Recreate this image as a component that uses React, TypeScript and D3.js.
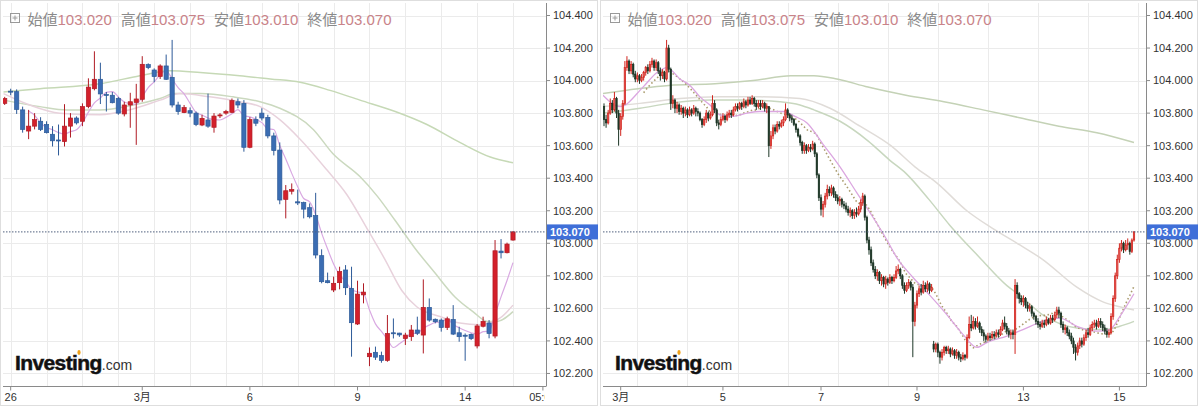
import React from "react";
import * as d3 from "d3";

// ---------- shared ----------
const priceTicks = [102.2, 102.4, 102.6, 102.8, 103.0, 103.2, 103.4, 103.6, 103.8, 104.0, 104.2, 104.4];
const lastPrice = 103.07;
const legendLabels = ["始値", "高値", "安値", "終値"];
const legendValues = ["103.020", "103.075", "103.010", "103.070"];

// ---------- left panel (4h candles) ----------
const leftOpen = [103.86, 103.935, 103.932, 103.82, 103.69, 103.72, 103.75, 103.73, 103.67, 103.635,
  103.625, 103.72, 103.77, 103.75, 103.84, 103.95, 104.008, 103.915, 103.91, 103.89,
  103.795, 103.85, 103.866, 103.885, 104.098, 104.065, 104.025, 104.09, 104.02, 103.85,
  103.803, 103.815, 103.80, 103.727, 103.758, 103.713, 103.783, 103.80, 103.805, 103.87,
  103.86, 103.59, 103.76, 103.80, 103.774, 103.66, 103.573, 103.27, 103.32, 103.255,
  103.25, 103.219, 103.17, 102.924, 102.77, 102.713, 102.758, 102.836, 102.723, 102.504,
  102.683, 102.303, 102.33, 102.31, 102.28, 102.45, 102.448, 102.415, 102.426, 102.467,
  102.436, 102.606, 102.533, 102.528, 102.483, 102.532, 102.45, 102.435, 102.44, 102.369,
  102.49, 102.51, 102.43, 102.952, 102.942, 103.02];
const leftHigh = [103.90, 103.95, 103.946, 103.84, 103.82, 103.80, 103.775, 103.75, 103.72, 103.73,
  103.855, 103.80, 103.78, 103.86, 104.014, 104.18, 104.11, 103.93, 103.93, 103.90,
  103.87, 103.925, 103.98, 104.15, 104.106, 104.075, 104.10, 104.16, 104.25, 103.87,
  103.85, 103.835, 103.81, 103.79, 103.92, 103.80, 103.80, 103.82, 103.89, 103.89,
  103.88, 103.775, 103.78, 103.83, 103.79, 103.68, 103.62, 103.358, 103.368, 103.33,
  103.256, 103.245, 103.31, 102.963, 102.82, 102.795, 102.856, 102.866, 102.856, 102.77,
  102.754, 102.36, 102.365, 102.334, 102.559, 102.538, 102.45, 102.45, 102.498, 102.549,
  102.778, 102.661, 102.538, 102.538, 102.549, 102.62, 102.487, 102.446, 102.446, 102.504,
  102.549, 102.528, 103.02, 103.026, 103.004, 103.075];
const leftLow = [103.85, 103.91, 103.795, 103.68, 103.64, 103.70, 103.69, 103.675, 103.595, 103.54,
  103.595, 103.65, 103.73, 103.72, 103.83, 103.94, 103.856, 103.81, 103.86, 103.79,
  103.78, 103.71, 103.605, 103.87, 104.07, 103.99, 104.01, 104.004, 103.835, 103.79,
  103.80, 103.775, 103.72, 103.72, 103.71, 103.68, 103.77, 103.79, 103.80, 103.83,
  103.563, 103.584, 103.72, 103.755, 103.645, 103.54, 103.24, 103.153, 103.30, 103.235,
  103.153, 103.153, 102.907, 102.754, 102.754, 102.70, 102.717, 102.682, 102.303, 102.498,
  102.631, 102.245, 102.283, 102.266, 102.272, 102.415, 102.425, 102.375, 102.40, 102.436,
  102.323, 102.518, 102.508, 102.457, 102.467, 102.436, 102.395, 102.278, 102.405, 102.354,
  102.483, 102.416, 102.416, 102.907, 102.938, 103.016];
const leftClose = [103.89, 103.93, 103.823, 103.70, 103.72, 103.76, 103.70, 103.68, 103.63, 103.63,
  103.72, 103.77, 103.74, 103.84, 103.96, 104.008, 103.918, 103.91, 103.864, 103.80,
  103.85, 103.87, 103.887, 104.10, 104.08, 104.025, 104.09, 104.008, 103.85, 103.81,
  103.834, 103.80, 103.73, 103.768, 103.72, 103.782, 103.789, 103.81, 103.877, 103.85,
  103.59, 103.76, 103.738, 103.77, 103.66, 103.57, 103.266, 103.323, 103.33, 103.248,
  103.21, 103.163, 102.928, 102.764, 102.758, 102.754, 102.826, 102.727, 102.512, 102.688,
  102.70, 102.324, 102.30, 102.28, 102.446, 102.448, 102.437, 102.436, 102.467, 102.447,
  102.606, 102.528, 102.518, 102.483, 102.536, 102.442, 102.426, 102.432, 102.414, 102.492,
  102.52, 102.446, 102.954, 102.942, 102.995, 103.07];
const leftTickIdx = [1, 23, 41, 59, 77, 90];
const leftTickLabels = ["26", "3月", "6", "9", "14", "05:00"];
const leftGridIdx = [1, 7, 13, 19, 25, 31, 37, 43, 49, 55, 61, 67, 73, 79, 85];
// moving averages: [candle index, price]
const leftMaLong: [number, number][] = [[-0.2, 103.93], [5.9, 103.95], [15.9, 103.98], [22.6, 104.03], [27.6, 104.06],
  [32.7, 104.05], [39.3, 104.03], [44.4, 104.01], [49.4, 103.99], [54.4, 103.94], [59.4, 103.88], [65.3, 103.81],
  [70.6, 103.73], [76.1, 103.62], [81.2, 103.53], [85, 103.495]];
const leftMaMid: [number, number][] = [[-0.2, 103.88], [5.9, 103.84], [10.4, 103.82], [15.9, 103.82], [21.5, 103.85],
  [26.0, 103.89], [28.5, 103.92], [32.7, 103.92], [38.2, 103.90], [42.7, 103.87], [46.0, 103.83], [51.6, 103.70],
  [54.9, 103.55], [59.4, 103.41], [62.3, 103.29], [65.3, 103.14], [68.6, 102.97], [71.9, 102.82], [75.3, 102.67],
  [78.3, 102.58], [80.7, 102.52], [82.3, 102.52], [85, 102.58]];
const leftMaFast: [number, number][] = [[-0.2, 103.92], [4.2, 103.85], [9.2, 103.80], [15.9, 103.79], [20.9, 103.82],
  [26.0, 103.88], [29.3, 103.92], [34.3, 103.90], [39.3, 103.87], [42.7, 103.84], [46.0, 103.76], [49.4, 103.64],
  [53.9, 103.45], [57.2, 103.30], [60.6, 103.09], [63.6, 102.90], [66.4, 102.71], [68.9, 102.61], [72.8, 102.55],
  [76.1, 102.51], [79.5, 102.50], [82.8, 102.54], [85, 102.62]];
const leftShortPeriod = 5;

// ---------- right panel (1h candles) ----------
const rightFirstOpen = 103.84;
const rightGapIndex = 158;
const rightGapOpen = 102.38;
const rightClose = [103.76, 103.74, 103.80, 103.86, 103.82, 103.89, 103.80, 103.70, 103.78, 103.86,
  104.08, 104.12, 104.06, 104.10, 104.04, 104.01, 104.03, 104.00, 104.02, 104.05,
  104.08, 104.06, 104.10, 104.12, 104.08, 104.11, 104.06, 104.03, 104.05, 104.01,
  104.20, 104.07, 103.86, 103.88, 103.83, 103.85, 103.81, 103.83, 103.80, 103.82,
  103.79, 103.82, 103.80, 103.83, 103.81, 103.80, 103.76, 103.73, 103.76, 103.80,
  103.77, 103.79, 103.86, 103.82, 103.74, 103.73, 103.76, 103.78, 103.76, 103.79,
  103.80, 103.79, 103.82, 103.84, 103.83, 103.86, 103.84, 103.87, 103.85, 103.88,
  103.86, 103.89, 103.86, 103.84, 103.86, 103.84, 103.86, 103.83, 103.84, 103.60,
  103.66, 103.71, 103.69, 103.73, 103.72, 103.74, 103.76, 103.82, 103.79, 103.77,
  103.76, 103.73, 103.70, 103.66, 103.62, 103.57, 103.60, 103.57, 103.59, 103.58,
  103.61, 103.55, 103.42, 103.28, 103.21, 103.24, 103.29, 103.33, 103.31, 103.34,
  103.30, 103.28, 103.26, 103.27, 103.24, 103.23, 103.21, 103.19, 103.20, 103.17,
  103.19, 103.18, 103.21, 103.25, 103.29, 103.16, 103.02, 102.96, 102.88, 102.84,
  102.80, 102.82, 102.77, 102.79, 102.75, 102.78, 102.76, 102.79, 102.77, 102.79,
  102.83, 102.84, 102.80, 102.74, 102.71, 102.74, 102.76, 102.73, 102.52, 102.62,
  102.69, 102.72, 102.70, 102.74, 102.72, 102.75, 102.71, 102.73, 102.35, 102.38,
  102.33, 102.30, 102.33, 102.36, 102.34, 102.35, 102.32, 102.34, 102.31, 102.33,
  102.30, 102.29, 102.31, 102.30, 102.42, 102.50, 102.48, 102.52, 102.49, 102.51,
  102.47, 102.45, 102.43, 102.41, 102.43, 102.42, 102.44, 102.43, 102.45, 102.44,
  102.47, 102.51, 102.49, 102.46, 102.44, 102.45, 102.44, 102.74, 102.69, 102.66,
  102.64, 102.66, 102.62, 102.60, 102.61, 102.57, 102.55, 102.52, 102.50, 102.49,
  102.51, 102.50, 102.53, 102.51, 102.54, 102.53, 102.56, 102.59, 102.57, 102.50,
  102.47, 102.48, 102.45, 102.43, 102.40, 102.36, 102.33, 102.37, 102.40, 102.38,
  102.42, 102.45, 102.44, 102.48, 102.50, 102.51, 102.49, 102.52, 102.50, 102.48,
  102.46, 102.44, 102.45, 102.55, 102.66, 102.80, 102.90, 102.97, 103.00, 102.96,
  102.99, 103.00, 102.95, 103.02, 103.07];
const rightHigh = [103.86, 103.79, 103.82, 103.89, 103.88, 103.93, 103.90, 103.82, 103.80, 103.88,
  104.12, 104.15, 104.13, 104.12, 104.11, 104.06, 104.05, 104.04, 104.04, 104.06,
  104.09, 104.10, 104.12, 104.14, 104.13, 104.13, 104.12, 104.08, 104.07, 104.06,
  104.25, 104.22, 104.08, 103.91, 103.89, 103.87, 103.86, 103.85, 103.84, 103.84,
  103.83, 103.84, 103.83, 103.85, 103.84, 103.83, 103.81, 103.77, 103.78, 103.82,
  103.81, 103.81, 103.91, 103.88, 103.83, 103.76, 103.78, 103.80, 103.79, 103.81,
  103.82, 103.82, 103.84, 103.86, 103.86, 103.87, 103.87, 103.89, 103.88, 103.90,
  103.90, 103.91, 103.90, 103.88, 103.88, 103.88, 103.88, 103.87, 103.86, 103.84,
  103.69, 103.73, 103.73, 103.75, 103.75, 103.76, 103.78, 103.86, 103.83, 103.80,
  103.79, 103.77, 103.74, 103.71, 103.67, 103.63, 103.62, 103.61, 103.61, 103.61,
  103.63, 103.62, 103.56, 103.43, 103.30, 103.26, 103.31, 103.36, 103.35, 103.36,
  103.35, 103.32, 103.30, 103.29, 103.28, 103.26, 103.25, 103.23, 103.22, 103.21,
  103.21, 103.22, 103.23, 103.27, 103.31, 103.30, 103.17, 103.04, 102.98, 102.90,
  102.86, 102.84, 102.83, 102.81, 102.80, 102.80, 102.79, 102.81, 102.80, 102.81,
  102.86, 102.87, 102.85, 102.81, 102.76, 102.76, 102.78, 102.77, 102.75, 102.64,
  102.71, 102.74, 102.75, 102.77, 102.76, 102.77, 102.76, 102.75, 102.40, 102.39,
  102.39, 102.34, 102.35, 102.37, 102.37, 102.37, 102.36, 102.36, 102.35, 102.35,
  102.34, 102.32, 102.33, 102.32, 102.44, 102.55, 102.56, 102.55, 102.54, 102.55,
  102.52, 102.49, 102.47, 102.44, 102.45, 102.45, 102.46, 102.46, 102.47, 102.47,
  102.49, 102.53, 102.55, 102.51, 102.48, 102.47, 102.47, 102.78, 102.76, 102.70,
  102.68, 102.68, 102.67, 102.64, 102.63, 102.62, 102.58, 102.56, 102.54, 102.52,
  102.53, 102.53, 102.55, 102.54, 102.56, 102.56, 102.58, 102.61, 102.61, 102.58,
  102.52, 102.50, 102.49, 102.47, 102.45, 102.42, 102.38, 102.39, 102.42, 102.42,
  102.44, 102.47, 102.48, 102.50, 102.52, 102.53, 102.53, 102.54, 102.54, 102.52,
  102.50, 102.48, 102.47, 102.57, 102.68, 102.82, 102.93, 103.00, 103.02, 103.01,
  103.02, 103.03, 103.01, 103.03, 103.075];
const rightLow = [103.72, 103.71, 103.73, 103.79, 103.80, 103.81, 103.77, 103.60, 103.66, 103.76,
  103.85, 104.06, 104.04, 104.04, 104.02, 103.99, 103.99, 103.98, 103.99, 104.00,
  104.03, 104.04, 104.05, 104.08, 104.06, 104.06, 104.04, 104.00, 104.01, 103.99,
  104.00, 104.05, 103.82, 103.83, 103.80, 103.80, 103.79, 103.79, 103.77, 103.78,
  103.77, 103.78, 103.78, 103.79, 103.78, 103.78, 103.75, 103.71, 103.72, 103.74,
  103.75, 103.76, 103.78, 103.80, 103.72, 103.70, 103.72, 103.75, 103.74, 103.75,
  103.77, 103.77, 103.78, 103.81, 103.81, 103.82, 103.82, 103.83, 103.83, 103.84,
  103.85, 103.85, 103.84, 103.82, 103.83, 103.82, 103.83, 103.81, 103.80, 103.53,
  103.58, 103.64, 103.67, 103.68, 103.70, 103.71, 103.72, 103.75, 103.77, 103.75,
  103.74, 103.72, 103.68, 103.65, 103.60, 103.55, 103.55, 103.55, 103.56, 103.56,
  103.57, 103.53, 103.40, 103.26, 103.17, 103.16, 103.22, 103.27, 103.29, 103.29,
  103.28, 103.26, 103.24, 103.23, 103.22, 103.21, 103.19, 103.17, 103.16, 103.15,
  103.15, 103.16, 103.17, 103.19, 103.23, 103.14, 103.00, 102.93, 102.86, 102.82,
  102.78, 102.77, 102.75, 102.74, 102.73, 102.72, 102.74, 102.75, 102.75, 102.76,
  102.78, 102.81, 102.78, 102.72, 102.69, 102.70, 102.72, 102.71, 102.30, 102.49,
  102.60, 102.67, 102.68, 102.69, 102.70, 102.70, 102.69, 102.70, 102.33, 102.33,
  102.30, 102.26, 102.28, 102.31, 102.32, 102.32, 102.30, 102.31, 102.29, 102.29,
  102.28, 102.27, 102.28, 102.28, 102.29, 102.41, 102.46, 102.47, 102.47, 102.48,
  102.45, 102.43, 102.40, 102.39, 102.40, 102.40, 102.41, 102.41, 102.42, 102.42,
  102.43, 102.46, 102.47, 102.44, 102.42, 102.41, 102.41, 102.32, 102.66, 102.63,
  102.62, 102.61, 102.60, 102.58, 102.58, 102.55, 102.53, 102.50, 102.48, 102.47,
  102.48, 102.48, 102.49, 102.50, 102.50, 102.51, 102.52, 102.54, 102.54, 102.48,
  102.45, 102.44, 102.43, 102.41, 102.38, 102.32, 102.28, 102.31, 102.35, 102.36,
  102.37, 102.40, 102.42, 102.43, 102.46, 102.48, 102.47, 102.48, 102.48, 102.46,
  102.44, 102.42, 102.42, 102.44, 102.53, 102.64, 102.78, 102.88, 102.95, 102.94,
  102.95, 102.96, 102.93, 102.94, 103.01];
const rightTickIdx = [8, 57, 104, 150, 201, 247];
const rightTickLabels = ["3月", "5", "7", "9", "13", "15"];
const rightGridIdx = [16, 40, 64, 88, 112, 136, 160, 184, 208, 232, 256];
const rightMaLong: [number, number][] = [[-0.5, 103.92], [16.3, 103.95], [31.1, 103.97], [53.2, 103.98], [71.4, 104.00],
  [89.6, 104.03], [100.6, 104.03], [111.6, 104.01], [126.5, 103.96], [144.7, 103.91], [162.9, 103.87],
  [181.6, 103.82], [199.8, 103.77], [218.0, 103.72], [236.2, 103.68], [254, 103.62]];
const rightMaA: [number, number][] = [[-0.5, 103.80], [17.2, 103.83], [31.6, 103.86], [50.8, 103.88], [70.0, 103.88],
  [84.3, 103.87], [93.9, 103.85], [100.6, 103.82], [113.1, 103.75], [126.5, 103.63], [137.0, 103.51],
  [144.7, 103.43], [155.7, 103.27], [165.8, 103.11], [180.2, 102.91], [193.1, 102.74], [199.3, 102.68],
  [210.3, 102.56], [226.6, 102.48], [239.1, 102.47], [247.2, 102.49], [254, 102.52]];
const rightMaB: [number, number][] = [[-0.5, 103.84], [17.2, 103.86], [36.4, 103.89], [55.6, 103.90], [74.7, 103.90],
  [93.9, 103.89], [108.3, 103.83], [122.7, 103.72], [137.5, 103.60], [149.0, 103.47], [159.6, 103.37],
  [173.9, 103.20], [186.4, 103.09], [199.3, 102.99], [210.3, 102.90], [226.6, 102.73], [239.1, 102.64],
  [247.2, 102.61], [254, 102.59]];
const rightMaPink: [number, number][] = [[-0.5, 103.91], [7.7, 103.84], [18.7, 103.96], [25.4, 104.05], [30.2, 104.08],
  [36.4, 104.01], [41.2, 103.97], [46.0, 103.90], [50.8, 103.85], [55.6, 103.79], [61.8, 103.78], [68.5, 103.80],
  [74.7, 103.81], [85.8, 103.81], [91.5, 103.78], [97.3, 103.74], [104.9, 103.61], [113.1, 103.47],
  [121.2, 103.31], [128.9, 103.16], [135.6, 103.02], [140.4, 102.91], [148.1, 102.79], [156.2, 102.68],
  [164.4, 102.56], [172.0, 102.44], [178.7, 102.36], [183.5, 102.39], [193.1, 102.43], [200.8, 102.47],
  [210.3, 102.52], [218.5, 102.54], [226.6, 102.49], [236.2, 102.46], [242.4, 102.47], [247.2, 102.55],
  [254, 102.69]];
const rightDotPeriod = 20;

// ---------- layout ----------
const W = 1200;
const H = 406;
const PLOT_L = 3;
const PLOT_R = 546;
const PLOT_T = 3;
const PLOT_B = 386.5;
const FONT = "'Liberation Sans', Arial, 'Noto Sans CJK JP', sans-serif";

const yScale = d3.scaleLinear().domain([102.1229, 104.4769]).range([386, 3]);

function sma(values: number[], n: number): [number, number][] {
  const out: [number, number][] = [];
  for (let i = n - 1; i < values.length; i++) {
    out.push([i, d3.mean(values.slice(i - n + 1, i + 1)) as number]);
  }
  return out;
}

type Candle = { o: number; h: number; l: number; c: number };

type PanelProps = {
  offset: number;
  clipId: string;
  x: d3.ScaleLinear<number, number>;
  candles: Candle[];
  bodyW: number;
  upFill: string;
  upStroke: string;
  downFill: string;
  downStroke: string;
  lines: { pts: [number, number][]; color: string; width: number; curve: boolean; dash?: string; opacity?: number }[];
  tickIdx: number[];
  tickLabels: string[];
  gridIdx: number[];
};

function Panel(p: PanelProps) {
  const smooth = d3.line<[number, number]>().x((d) => p.x(d[0])).y((d) => yScale(d[1])).curve(d3.curveMonotoneX);
  const straight = d3.line<[number, number]>().x((d) => p.x(d[0])).y((d) => yScale(d[1]));
  const yLast = yScale(lastPrice);
  return (
    <g transform={`translate(${p.offset},0)`}>
      <defs>
        <clipPath id={p.clipId}>
          <rect x={PLOT_L} y={PLOT_T} width={PLOT_R - PLOT_L} height={PLOT_B - PLOT_T} />
        </clipPath>
        <clipPath id={p.clipId + "x"}>
          <rect x={0} y={380} width={545} height={26} />
        </clipPath>
      </defs>
      <rect x={0.5} y={0.5} width={597} height={H - 1} fill="#fff" stroke="#dedede" />
      {/* grid */}
      {priceTicks.map((t) => (
        <line key={"h" + t} x1={PLOT_L} x2={PLOT_R} y1={Math.round(yScale(t)) + 0.5} y2={Math.round(yScale(t)) + 0.5} stroke="#ebebeb" />
      ))}
      {p.gridIdx.map((i) => (
        <line key={"v" + i} x1={Math.round(p.x(i)) + 0.5} x2={Math.round(p.x(i)) + 0.5} y1={PLOT_T} y2={PLOT_B} stroke="#ebebeb" />
      ))}
      <g clipPath={`url(#${p.clipId})`}>
        {p.lines.map((ln, k) => (
          <path key={k} d={(ln.curve ? smooth : straight)(ln.pts) || ""} fill="none" stroke={ln.color}
            strokeWidth={ln.width} strokeDasharray={ln.dash} opacity={ln.opacity ?? 1} />
        ))}
        {p.candles.map((d, i) => {
          const cx = p.x(i);
          const up = d.c >= d.o;
          const top = yScale(Math.max(d.o, d.c));
          const bot = yScale(Math.min(d.o, d.c));
          const hi = yScale(Math.max(d.h, d.o, d.c));
          const lo = yScale(Math.min(d.l, d.o, d.c));
          const stroke = up ? p.upStroke : p.downStroke;
          return (
            <g key={i}>
              <line x1={cx} x2={cx} y1={hi} y2={lo} stroke={stroke} strokeWidth={1} />
              <rect x={cx - p.bodyW / 2} y={top} width={p.bodyW} height={Math.max(1, bot - top)}
                fill={up ? p.upFill : p.downFill} stroke={stroke} strokeWidth={0.7} />
            </g>
          );
        })}
        <line x1={PLOT_L} x2={PLOT_R} y1={yLast} y2={yLast} stroke="#4f607e" strokeWidth={1} strokeDasharray="1.5,1.5" />
      </g>
      {/* right axis */}
      <line x1={PLOT_R + 0.5} x2={PLOT_R + 0.5} y1={PLOT_T} y2={PLOT_B} stroke="#8a8a8a" />
      {priceTicks.map((t) => (
        <g key={"t" + t}>
          <line x1={PLOT_R} x2={PLOT_R + 4} y1={yScale(t)} y2={yScale(t)} stroke="#8a8a8a" />
          <text x={PLOT_R + 7} y={yScale(t)} dy="0.35em" fontSize={11} fill="#333" fontFamily={FONT}>
            {t.toFixed(3)}
          </text>
        </g>
      ))}
      <rect x={PLOT_R + 1} y={yLast - 7.5} width={51} height={15} fill="#3f6fd8" />
      <text x={PLOT_R + 4} y={yLast} dy="0.36em" fontSize={11} fontWeight={700} fill="#fff" fontFamily={FONT}>
        {lastPrice.toFixed(3)}
      </text>
      {/* bottom axis */}
      <line x1={PLOT_L} x2={PLOT_R} y1={PLOT_B} y2={PLOT_B} stroke="#8a8a8a" />
      <g clipPath={`url(#${p.clipId}x)`}>
        {p.tickIdx.map((i, k) => (
          <g key={"x" + k}>
            <line x1={p.x(i)} x2={p.x(i)} y1={PLOT_B} y2={PLOT_B + 4} stroke="#8a8a8a" />
            <text x={p.x(i)} y={401} textAnchor="middle" fontSize={11} fill="#333" fontFamily={FONT}>
              {p.tickLabels[k]}
            </text>
          </g>
        ))}
      </g>
      {/* legend */}
      <rect x={10.5} y={13.5} width={9} height={9} fill="none" stroke="#999" />
      <line x1={12.5} x2={17.5} y1={18} y2={18} stroke="#999" />
      <line x1={15} x2={15} y1={15.5} y2={20.5} stroke="#999" />
      <text x={27.5} y={25} fontSize={15} fontFamily={FONT}>
        {legendLabels.map((lab, k) => (
          <React.Fragment key={lab}>
            <tspan dx={k === 0 ? 0 : 9} fill="#8a8a8a">{lab}</tspan>
            <tspan fill="#c98389">{legendValues[k]}</tspan>
          </React.Fragment>
        ))}
      </text>
      {/* logo */}
      <text x={15} y={370} fontFamily={FONT} fill="#111">
        <tspan fontSize={21} fontWeight={700} letterSpacing={-0.6} stroke="#111" strokeWidth={0.5}>Investing</tspan>
        <tspan fontSize={14} fill="#333">.com</tspan>
      </text>
      <ellipse cx={79} cy={352.5} rx={1.6} ry={2.4} fill="#f2a31b" />
    </g>
  );
}

export default function App() {
  const leftX = d3.scaleLinear().domain([0, leftClose.length - 1]).range([4.7, 513]);
  const rightX = d3.scaleLinear().domain([0, rightClose.length - 1]).range([4, 534]);

  const leftCandles: Candle[] = leftClose.map((c, i) => ({ o: leftOpen[i], h: leftHigh[i], l: leftLow[i], c }));
  const rightCandles: Candle[] = rightClose.map((c, i) => ({
    o: i === 0 ? rightFirstOpen : i === rightGapIndex ? rightGapOpen : rightClose[i - 1],
    h: rightHigh[i],
    l: rightLow[i],
    c,
  }));

  return (
    <svg width={W} height={H} viewBox={`0 0 ${W} ${H}`}
      style={{ position: "absolute", left: 0, top: 0, background: "#fff" }}>
      <rect width={W} height={H} fill="#fff" />
      <Panel
        offset={0}
        clipId="clipL"
        x={leftX}
        candles={leftCandles}
        bodyW={4.2}
        upFill="#d3202b"
        upStroke="#b01b24"
        downFill="#3b6db3"
        downStroke="#2d5a98"
        lines={[
          { pts: leftMaLong, color: "#c6d9b6", width: 1.5, curve: true },
          { pts: leftMaMid, color: "#cbd9bf", width: 1.5, curve: true },
          { pts: leftMaFast, color: "#e8d2dc", width: 1.5, curve: true },
          { pts: sma(leftClose, leftShortPeriod), color: "#d9a9e2", width: 1.2, curve: true },
        ]}
        tickIdx={leftTickIdx}
        tickLabels={leftTickLabels}
        gridIdx={leftGridIdx}
      />
      <Panel
        offset={600}
        clipId="clipR"
        x={rightX}
        candles={rightCandles}
        bodyW={1.4}
        upFill="#e8625e"
        upStroke="#d1261f"
        downFill="#1d3626"
        downStroke="#1d3626"
        lines={[
          { pts: rightMaLong, color: "#c4d2b6", width: 1.5, curve: true },
          { pts: rightMaB, color: "#e0dcd8", width: 1.5, curve: true },
          { pts: rightMaA, color: "#c8d7bf", width: 1.5, curve: true },
          { pts: sma(rightClose, rightDotPeriod), color: "#a99a6c", width: 1.6, curve: false, dash: "1.5,2.5" },
          { pts: rightMaPink, color: "#dba6e0", width: 1.3, curve: true },
        ]}
        tickIdx={rightTickIdx}
        tickLabels={rightTickLabels}
        gridIdx={rightGridIdx}
      />
    </svg>
  );
}
